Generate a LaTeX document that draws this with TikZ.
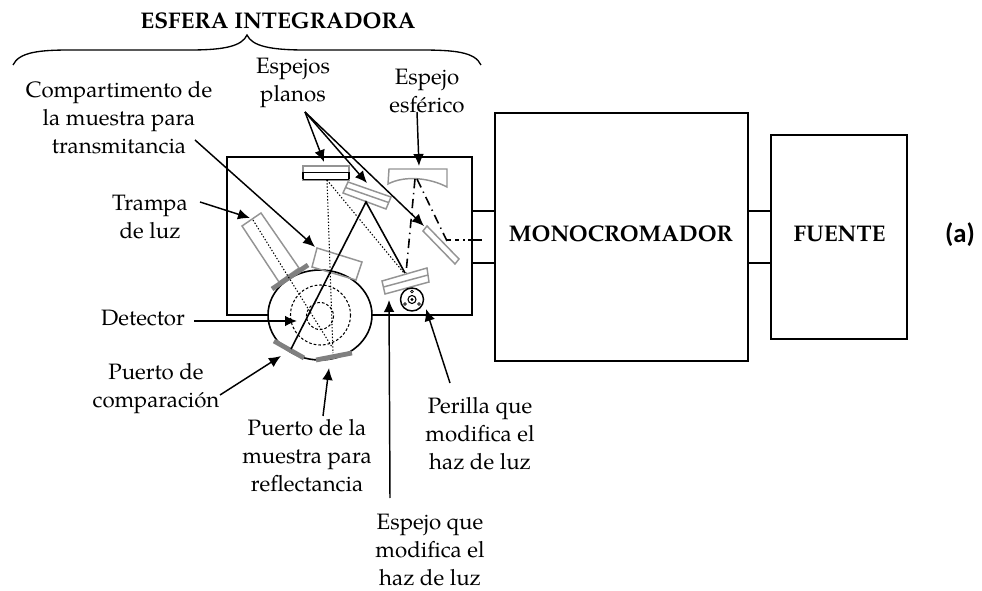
\documentclass[tikz,border=0pt]{standalone}
\usepackage{fontspec}
\setmainfont{TeX Gyre Pagella}
\newfontfamily\lab{Carlito}
\usetikzlibrary{arrows.meta,calc}
\tikzset{
 x=0.75pt,y=-0.75pt,
 ln/.style={line width=1.2pt,black},
 gr/.style={line width=1.1pt,draw=black!42},
 port/.style={line width=3.6pt,draw=black!50},
 arr/.style={line width=1.1pt,-{Latex[length=9pt,width=8pt]}},
 lbl/.style={font=\fontsize{16.7pt}{21pt}\selectfont,align=center,inner sep=0pt},
 big/.style={font=\fontsize{17pt}{20pt}\selectfont\bfseries,inner sep=0pt},
 dotl/.style={line width=0.8pt,dash pattern=on 1pt off 1.4pt},
 dcirc/.style={line width=0.8pt,dash pattern=on 2pt off 1.5pt},
 dd/.style={line width=1.2pt,dash pattern=on 7pt off 3.5pt on 1pt off 3.5pt},
 blk/.style={draw,line width=1.2pt,inner sep=0pt,anchor=north west},
}
\begin{document}
\begin{tikzpicture}
\useasboundingbox (0,0) rectangle (982,591);
% enclosure
\draw[ln] (268,315) -- (227,315) -- (227,157) -- (472,157) -- (472,315) -- (372,315);
\node[blk,minimum width=189.75pt,minimum height=186pt] (mono) at (494,112) {};
\node[blk,minimum width=102pt,minimum height=153pt] (fuente) at (770,134) {};
\draw[ln] (472,211) -- (494,211) (472,263) -- (494,263);
\draw[ln] (747,211) -- (770,211) (747,263) -- (770,263);
\node[big] at (621,234) {MONOCROMADOR};
\node[big] at (839.5,234) {FUENTE};
\node[font=\lab\bfseries\fontsize{20pt}{22pt}\selectfont,inner sep=0pt] at (960,235) {(a)};
\node[big] (esfera) at (278,21) {ESFERA INTEGRADORA};
\draw[line width=1pt] (13,65) .. controls (19,52) and (40,50) .. (70,50) -- (190,50) .. controls (225,50) and (242,46) .. (247,35) .. controls (252,46) and (270,50) .. (305,50) -- (420,50) .. controls (455,50) and (475,52) .. (481,65);
% sphere
\draw[ln] (320,315) ellipse [x radius=52, y radius=45];
\draw[dcirc] (320.5,315) circle [radius=30];
\draw[dcirc] (320,316) circle [radius=13.5];
% optics grey
\draw[gr] (303,166) rectangle (349,180);
\draw[ln] (303,172.5) -- (349,172.5) (303,179.5) -- (349,179.5) (303,179.5) -- (303,172.5) (349,179.5) -- (349,172.5);
\draw[gr] (348,182) -- (391,197) -- (386,209) -- (343,193) -- cycle;
\draw[gr] (345.5,187.5) -- (388.5,202.5);
\draw[gr] (317,248) -- (362,262) -- (356,280) -- (312,267) -- cycle;
\draw[gr] (261,213) -- (299,268) -- (279,282) -- (242,226) -- cycle;
\draw[port] (272,289) -- (308,265);
\draw[port] (274,341) -- (304,358);
\draw[port] (316,360) -- (352,353);
\draw[gr] (382,281) -- (427,268) -- (429,282) -- (385,294) -- cycle;
\draw[gr] (383.5,287) -- (428,275);
\draw[gr] (389,169) -- (447,169) -- (447,187) .. controls (430,178) and (405,175) .. (388,184) -- cycle;
\draw[gr] (427,226) -- (459,259) -- (455,264) -- (423,231) -- cycle;
% knob
\draw[line width=1.1pt] (412,299.5) circle [radius=11.5];
\draw[line width=0.8pt] (412,299.5) circle [radius=4];
\fill (412,299.5) circle [radius=1.6];
\draw[line width=0.6pt] (412,291.5) circle [radius=1.4] (405,304) circle [radius=1.4] (419,304) circle [radius=1.4];
% beams
\draw[dotl] (327,180) -- (333,353);
\draw[dotl] (327,180) -- (404,273);
\draw[dotl] (253,220) -- (332,347);
\draw[line width=1.2pt] (291,349) -- (366,202) -- (405,273);
\draw[dd] (415,179) -- (406,273);
\draw[dd] (417,179) -- (447,241);
\draw[line width=1.2pt,dash pattern=on 3pt off 3pt] (447,240) -- (465,240);
\draw[line width=1.2pt] (468,240) -- (482,240);
% labels
\coordinate (a1) at (305,112);
\coordinate (a2) at (417,112);
\node[lbl] (lcomp) at (119,118) {Compartimento de\\la muestra para\\transmitancia};
\node[lbl] (lesp) at (293,83) {Espejos\\planos};
\node[lbl] (lesf) at (427,91) {Espejo\\esf\'erico};
\node[lbl] (ltra) at (150,217) {Trampa\\de luz};
\node[lbl] (ldet) at (143,318) {Detector};
\node[lbl] (lcom) at (156,389) {Puerto de\\comparaci\'on};
\node[lbl] (lmue) at (307,456) {Puerto de la\\muestra para\\reflectancia};
\node[lbl] (lper) at (480,434) {Perilla que\\modifica el\\haz de luz};
\node[lbl] (lmod) at (430,550) {Espejo que\\modifica el\\haz de luz};
% arrows
\coordinate (t1) at (324,162);
\coordinate (t2) at (367,183);
\coordinate (t3) at (424,226);
\coordinate (t4) at (419,166);
\coordinate (t5) at (315,247);
\coordinate (t6) at (250,218);
\coordinate (t7) at (297,321);
\coordinate (t8) at (281,356);
\coordinate (t9) at (329,368);
\coordinate (t10) at (389,300);
\coordinate (t11) at (426,309);
\draw[arr] (a1) -- (t1);
\draw[arr] (a1) -- (t2);
\draw[arr] (a1) -- (t3);
\draw[arr] (a2) -- (t4);
\coordinate (s5) at (195,140);
\coordinate (s6) at (200,202);
\coordinate (s7) at (194,321);
\coordinate (s8) at (220,395);
\coordinate (s9) at (323,416);
\coordinate (s10) at (390,498);
\coordinate (s11) at (450,383);
\draw[arr] (s5) -- (t5);
\draw[arr] (s6) -- (t6);
\draw[arr] (s7) -- (t7);
\draw[arr] (s8) -- (t8);
\draw[arr] (s9) -- (t9);
\draw[arr] (s10) -- (t10);
\draw[arr] (s11) -- (t11);
\end{tikzpicture}
\end{document}
